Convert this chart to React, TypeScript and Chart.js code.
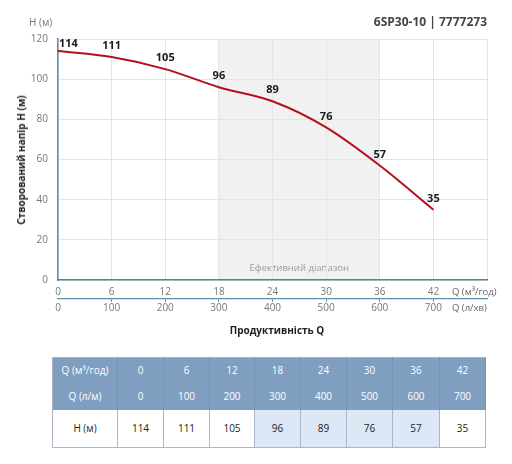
import React, { useEffect, useRef } from "react";
import { Chart, registerables } from "chart.js";

Chart.register(...registerables);

const flowM3h = [0, 6, 12, 18, 24, 30, 36, 42];
const flowLmin = [0, 100, 200, 300, 400, 500, 600, 700];
const head = [114, 111, 105, 96, 89, 76, 57, 35];
const effectiveRange = [18, 36];
const xMaxM3h = 48;
const xMaxLmin = 800;
const yMax = 120;

const FONT = "'Open Sans', sans-serif";

const shadePlugin = {
  id: "shade",
  beforeDraw(chart: any) {
    const { ctx, chartArea, scales } = chart;
    const x1 = scales.x.getPixelForValue(effectiveRange[0]);
    const x2 = scales.x.getPixelForValue(effectiveRange[1]);
    ctx.save();
    ctx.fillStyle = "#f1f1f1";
    ctx.fillRect(x1, chartArea.top, x2 - x1, chartArea.bottom - chartArea.top);
    ctx.fillStyle = "#9a9a9a";
    ctx.font = `9.5px ${FONT}`;
    ctx.textAlign = "center";
    ctx.textBaseline = "middle";
    ctx.fillText("Ефективний діапазон", (x1 + x2) / 2, chartArea.bottom - 12);
    ctx.restore();
  },
};

const labelPlugin = {
  id: "pointLabels",
  afterDatasetsDraw(chart: any) {
    const { ctx } = chart;
    const meta = chart.getDatasetMeta(0);
    ctx.save();
    ctx.fillStyle = "#1a1a1a";
    ctx.font = `bold 11px ${FONT}`;
    ctx.textBaseline = "middle";
    meta.data.forEach((pt: any, i: number) => {
      const txt = String(head[i]);
      if (i === 0) {
        ctx.textAlign = "left";
        ctx.fillText(txt, pt.x + 1, pt.y - 7);
      } else {
        ctx.textAlign = "center";
        ctx.fillText(txt, pt.x, pt.y - 11);
      }
    });
    ctx.restore();
  },
};

function PumpChart() {
  const ref = useRef<HTMLCanvasElement | null>(null);
  useEffect(() => {
    if (!ref.current) return;
    const chart = new Chart(ref.current, {
      type: "line",
      data: {
        datasets: [
          {
            data: flowM3h.map((q, i) => ({ x: q, y: head[i] })),
            borderColor: "#b3101c",
            borderWidth: 2,
            pointRadius: 0,
            cubicInterpolationMode: "monotone",
            fill: false,
            xAxisID: "x",
            yAxisID: "y",
          },
        ],
      },
      options: {
        animation: false,
        responsive: false,
        maintainAspectRatio: false,
        layout: { padding: { left: 0, right: 25, top: 39, bottom: 0 } },
        plugins: { legend: { display: false }, tooltip: { enabled: false } },
        scales: {
          y: {
            type: "linear",
            position: "left",
            min: 0,
            max: yMax,
            afterFit: (s: any) => {
              s.width = 58;
            },
            ticks: {
              stepSize: 20,
              color: "#777",
              padding: 10,
              font: { family: FONT, size: 10 },
            },
            grid: { color: "#e4e4e4", drawTicks: false },
            border: { color: "#5b88c0", width: 1.5 },
          },
          x: {
            type: "linear",
            position: "bottom",
            weight: 1,
            min: 0,
            max: xMaxM3h,
            afterFit: (s: any) => {
              s.height = 19;
            },
            ticks: {
              stepSize: 6,
              color: "#777",
              padding: 6,
              font: { family: FONT, size: 10 },
              callback: (v: any) => (v === xMaxM3h ? "" : String(v)),
            },
            grid: { color: "#e4e4e4", drawTicks: false },
            border: { color: "#4f8a93", width: 1.5 },
          },
          x2: {
            type: "linear",
            position: "bottom",
            weight: 2,
            min: 0,
            max: xMaxLmin,
            afterFit: (s: any) => {
              s.height = 41;
            },
            ticks: {
              stepSize: 100,
              color: "#777",
              padding: 0,
              font: { family: FONT, size: 10 },
              callback: (v: any) => (v === xMaxLmin ? "" : String(v)),
            },
            grid: {
              drawOnChartArea: false,
              drawTicks: true,
              tickLength: 3,
              color: (c: any) =>
                c.tick && c.tick.value > 0 && c.tick.value < xMaxLmin ? "#5f8fa8" : "transparent",
            },
            border: { color: "#5f8fa8", width: 1.2 },
          },
        },
      } as any,
      plugins: [shadePlugin, labelPlugin],
    });
    return () => chart.destroy();
  }, []);
  return (
    <canvas
      ref={ref}
      width={512}
      height={340}
      style={{ position: "absolute", left: 0, top: 0, width: 512, height: 340 }}
    />
  );
}

const colWidths = [65, 46, 46, 45, 46, 46, 46, 47, 46];

export default function App() {
  const headCell: React.CSSProperties = {
    color: "#fff",
    fontSize: 10,
    textAlign: "center",
    borderRight: "1px solid #7393b7",
    padding: 0,
  };
  const bodyCell: React.CSSProperties = {
    color: "#222",
    fontSize: 10,
    textAlign: "center",
    borderRight: "1px solid #a9b7c8",
    padding: 0,
  };
  const inEff = (q: number) => q >= effectiveRange[0] && q <= effectiveRange[1];
  return (
    <div
      style={{
        position: "fixed",
        left: 0,
        top: 0,
        width: 512,
        height: 464,
        background: "#fff",
        fontFamily: FONT,
        overflow: "hidden",
      }}
    >
      <PumpChart />
      <div style={{ position: "absolute", left: 29, top: 15, fontSize: 10, color: "#777" }}>H (м)</div>
      <div
        style={{
          position: "absolute",
          right: 512 - 487,
          top: 13,
          fontSize: 12,
          fontWeight: 700,
          color: "#444",
        }}
      >
        6SP30-10 | 7777273
      </div>
      <div
        style={{
          position: "absolute",
          left: 21,
          top: 160,
          transform: "translate(-50%, -50%) rotate(-90deg)",
          whiteSpace: "nowrap",
          fontSize: 10,
          fontWeight: 700,
          color: "#222",
        }}
      >
        Створований напір H (м)
      </div>
      <div style={{ position: "absolute", left: 452, top: 285, fontSize: 9.5, color: "#666", whiteSpace: "nowrap" }}>
        Q (м³/год)
      </div>
      <div style={{ position: "absolute", left: 452, top: 301, fontSize: 9.5, color: "#666", whiteSpace: "nowrap" }}>
        Q (л/хв)
      </div>
      <div
        style={{
          position: "absolute",
          left: 277,
          top: 330,
          transform: "translate(-50%, -50%)",
          whiteSpace: "nowrap",
          fontSize: 10,
          fontWeight: 700,
          color: "#222",
        }}
      >
        Продуктивність Q
      </div>
      <table
        style={{
          position: "absolute",
          left: 52,
          top: 357,
          width: 433,
          borderCollapse: "collapse",
          tableLayout: "fixed",
          fontFamily: FONT,
          border: "1px solid #a9b7c8",
        }}
      >
        <colgroup>
          {colWidths.map((w, i) => (
            <col key={i} style={{ width: w }} />
          ))}
        </colgroup>
        <tbody>
          <tr style={{ height: 25, background: "#7f9ec0" }}>
            <td style={headCell}>Q (м³/год)</td>
            {flowM3h.map((q, i) => (
              <td key={i} style={headCell}>
                {q}
              </td>
            ))}
          </tr>
          <tr style={{ height: 27, background: "#7f9ec0" }}>
            <td style={headCell}>Q (л/м)</td>
            {flowLmin.map((q, i) => (
              <td key={i} style={headCell}>
                {q}
              </td>
            ))}
          </tr>
          <tr style={{ height: 38, background: "#fff" }}>
            <td style={bodyCell}>H (м)</td>
            {head.map((h, i) => (
              <td key={i} style={{ ...bodyCell, background: inEff(flowM3h[i]) ? "#dce8f6" : "#fff" }}>
                {h}
              </td>
            ))}
          </tr>
        </tbody>
      </table>
    </div>
  );
}
